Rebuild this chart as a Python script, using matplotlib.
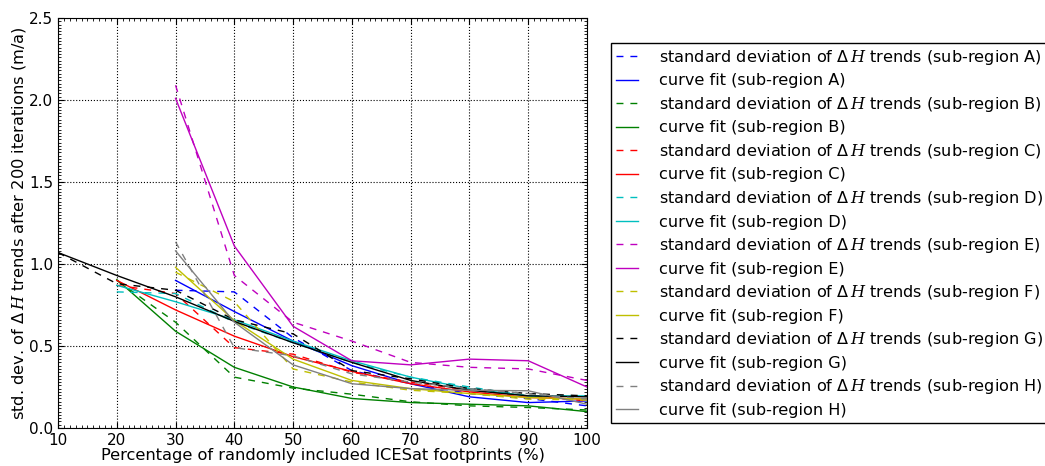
import numpy as np
import matplotlib
matplotlib.use('Agg')
import matplotlib.pyplot as plt
from matplotlib.ticker import MultipleLocator

plt.rcParams['mathtext.fontset'] = 'custom'
plt.rcParams['mathtext.rm'] = 'DejaVu Sans'
plt.rcParams['mathtext.it'] = 'DejaVu Serif:italic'

x10 = [10, 20, 30, 40, 50, 60, 70, 80, 90, 100]
x20 = [20, 30, 40, 50, 60, 70, 80, 90, 100]
x30 = [30, 40, 50, 60, 70, 80, 90, 100]

# sub-region A
std_a = [0.84, 0.83, 0.55, 0.35, 0.27, 0.21, 0.18, 0.135]
fit_a = [0.90, 0.71, 0.53, 0.38, 0.27, 0.19, 0.155, 0.165]
# sub-region B
std_b = [0.90, 0.645, 0.31, 0.243, 0.206, 0.16, 0.135, 0.125, 0.11]
fit_b = [0.905, 0.59, 0.37, 0.25, 0.18, 0.155, 0.145, 0.135, 0.10]
# sub-region C
std_c = [0.87, 0.82, 0.49, 0.45, 0.34, 0.28, 0.23, 0.196, 0.165]
fit_c = [0.90, 0.72, 0.56, 0.435, 0.345, 0.27, 0.22, 0.186, 0.176]
# sub-region D
std_d = [0.83, 0.82, 0.645, 0.52, 0.40, 0.31, 0.25, 0.196, 0.196]
fit_d = [0.87, 0.77, 0.66, 0.53, 0.41, 0.31, 0.24, 0.196, 0.196]
# sub-region E
std_e = [2.09, 0.93, 0.645, 0.53, 0.40, 0.37, 0.36, 0.29]
fit_e = [2.01, 1.11, 0.62, 0.41, 0.385, 0.42, 0.41, 0.25]
# sub-region F
std_f = [0.95, 0.77, 0.36, 0.28, 0.23, 0.21, 0.176, 0.17]
fit_f = [0.98, 0.655, 0.42, 0.29, 0.24, 0.21, 0.186, 0.176]
# sub-region G
std_g = [1.07, 0.88, 0.84, 0.66, 0.574, 0.35, 0.30, 0.24, 0.21, 0.196]
fit_g = [1.07, 0.93, 0.80, 0.65, 0.52, 0.40, 0.29, 0.23, 0.196, 0.19]
# sub-region H
std_h = [1.135, 0.49, 0.44, 0.33, 0.28, 0.24, 0.21, 0.176]
fit_h = [1.08, 0.645, 0.385, 0.27, 0.24, 0.23, 0.227, 0.145]

series = [
    ('A', x30, std_a, fit_a, 'b'),
    ('B', x20, std_b, fit_b, 'g'),
    ('C', x20, std_c, fit_c, 'r'),
    ('D', x20, std_d, fit_d, 'c'),
    ('E', x30, std_e, fit_e, 'm'),
    ('F', x30, std_f, fit_f, 'y'),
    ('G', x10, std_g, fit_g, 'k'),
    ('H', x30, std_h, fit_h, 'gray'),
]
colors = {'b': '#0000ff', 'g': '#008000', 'r': '#ff0000', 'c': '#00bfbf',
          'm': '#bf00bf', 'y': '#bfbf00', 'k': '#000000', 'gray': '#808080'}

fig = plt.figure(figsize=(10.45, 4.66), dpi=100)
ax = fig.add_axes([58/1045, 1-428/466, (587-58)/1045, (428-18)/466])

for name, xs, s, f, c in series:
    ax.plot(xs, s, '--', color=colors[c], lw=1, dashes=(5, 5),
            label=r'standard deviation of $\Delta\,H$ trends (sub-region %s)' % name)
    ax.plot(xs, f, '-', color=colors[c], lw=1,
            label='curve fit (sub-region %s)' % name)

ax.set_xlim(10, 100)
ax.set_ylim(0, 2.5)
ax.xaxis.set_major_locator(MultipleLocator(10))
ax.yaxis.set_major_locator(MultipleLocator(0.5))
ax.xaxis.set_minor_locator(MultipleLocator(1))
ax.yaxis.set_minor_locator(MultipleLocator(0.02))
ax.tick_params(which='both', direction='in', top=True, right=True, labelsize=11)
ax.tick_params(which='major', length=4)
ax.tick_params(which='minor', length=2)
ax.grid(True, which='major', color='k', linestyle=':', lw=0.8)
ax.set_xlabel('Percentage of randomly included ICESat footprints (%)', fontsize=11.7, labelpad=0)
ax.set_ylabel(r'std. dev. of $\Delta\,H$ trends after 200 iterations (m/a)', fontsize=11.7, labelpad=1)

leg = ax.legend(loc='upper left', bbox_to_anchor=(611/1045, 1-43/466),
                bbox_transform=fig.transFigure, fontsize=11.6, fancybox=False,
                framealpha=1, edgecolor='k', handlelength=1.35, handletextpad=1.35,
                labelspacing=0.405, borderaxespad=0, borderpad=0.3)
leg.get_frame().set_linewidth(1)

fig.savefig('out.png', dpi=100)
